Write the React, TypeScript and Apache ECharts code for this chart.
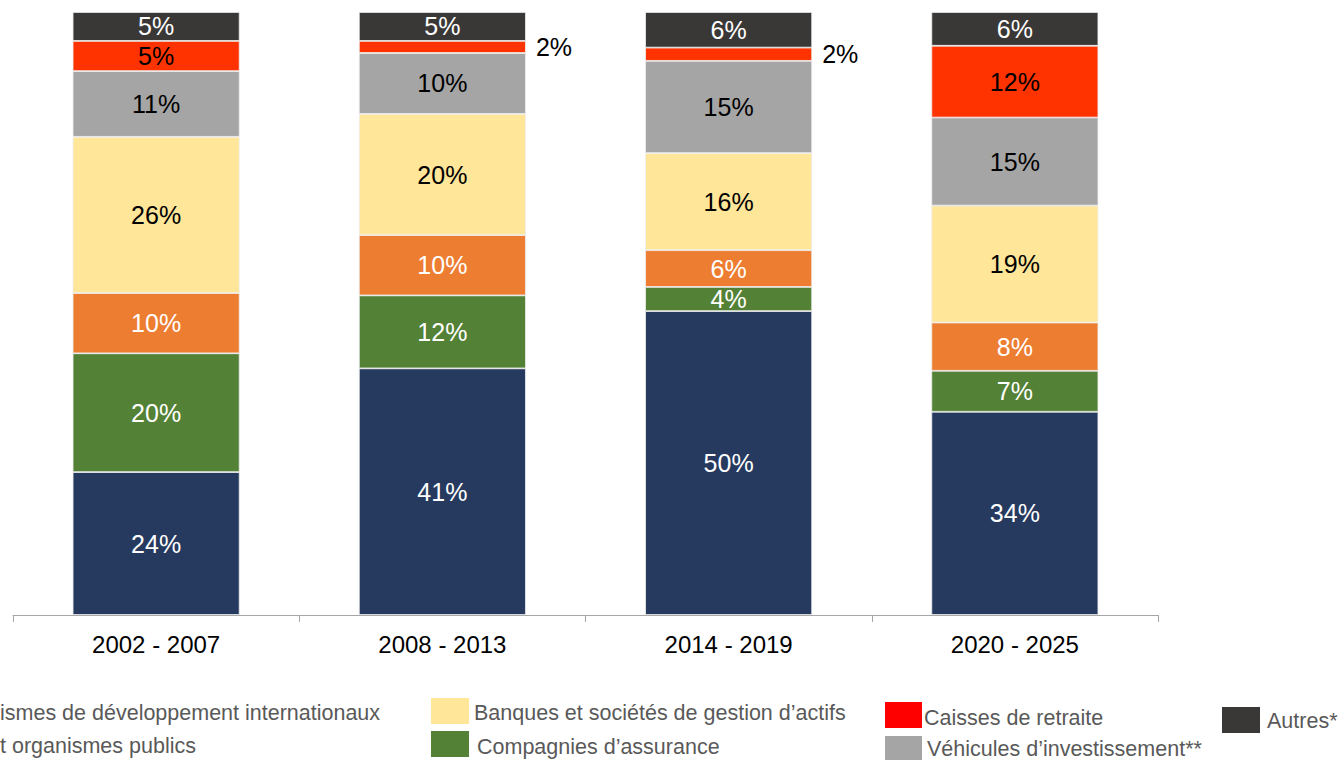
import React, { useEffect, useRef } from "react";
import * as echarts from "echarts";

const categories = ["2002 - 2007", "2008 - 2013", "2014 - 2019", "2020 - 2025"];
// values in % (bottom to top of each bar)
const publics = [23.7, 40.9, 50.4, 33.7];
const assurance = [19.7, 12.1, 4.0, 6.8];
const developpement = [10.0, 10.0, 6.1, 8.0];
const banques = [25.9, 20.1, 16.1, 19.4];
const vehicules = [10.9, 10.1, 15.3, 14.6];
const retraite = [5.0, 2.0, 2.2, 11.9];
const autres = [4.8, 4.8, 5.9, 5.6];

const FONT = "'Liberation Sans', Arial, sans-serif";

const seriesDefs = [
  { name: "Gouvernements et organismes publics", data: publics, color: "#253A5E", label: "#ffffff" },
  { name: "Compagnies d’assurance", data: assurance, color: "#538135", label: "#ffffff" },
  { name: "Organismes de développement internationaux", data: developpement, color: "#ED7D31", label: "#ffffff" },
  { name: "Banques et sociétés de gestion d’actifs", data: banques, color: "#FFE699", label: "#000000" },
  { name: "Véhicules d’investissement**", data: vehicules, color: "#A5A5A5", label: "#000000" },
  { name: "Caisses de retraite", data: retraite, color: "#FF3300", label: "#000000" },
  { name: "Autres*", data: autres, color: "#3A3836", label: "#ffffff" },
];

export default function App() {
  const ref = useRef<HTMLDivElement>(null);
  useEffect(() => {
    document.body.style.margin = "0";
    const chart = echarts.init(ref.current!, null, { renderer: "svg" });
    const series = seriesDefs.map((s) => ({
      type: "bar",
      name: s.name,
      stack: "total",
      barWidth: 167,
      itemStyle: { color: s.color, borderColor: "#eeeeee", borderWidth: 0.8 },
      label: {
        show: true,
        position: "inside",
        color: s.label,
        fontSize: 25,
        fontFamily: FONT,
        formatter: (p: any) => Math.round(p.value) + "%",
      },
      data: s.data.map((v) =>
        v < 3
          ? { value: v, label: { position: "right", distance: 10, color: "#000000" } }
          : v
      ),
    }));

    const legendText = (x: number, y: number, text: string, align = "left") => ({
      type: "text",
      x,
      y,
      style: {
        text,
        fill: "#595959",
        fontSize: 21.5,
        lineHeight: 21.5,
        fontFamily: FONT,
        align,
        verticalAlign: "middle",
      },
    });
    const legendBox = (x: number, y: number, w: number, h: number, color: string) => ({
      type: "rect",
      shape: { x, y, width: w, height: h },
      style: { fill: color },
    });

    chart.setOption({
      animation: false,
      grid: { left: 13, right: 182, top: 12, bottom: 145, containLabel: false },
      xAxis: {
        type: "category",
        data: categories,
        axisLine: { lineStyle: { color: "#A6A6A6", width: 1 } },
        axisTick: { show: true, length: 7, lineStyle: { color: "#A6A6A6" } },
        axisLabel: { color: "#000000", fontSize: 24, fontFamily: FONT, margin: 17 },
      },
      yAxis: { type: "value", min: 0, max: 100, show: false, splitLine: { show: false } },
      series,
      graphic: [
        // first legend column is cut at the page's left edge in the reference
        legendText(0, 713, "ismes de développement internationaux"),
        legendText(0, 746, "t organismes publics"),
        legendBox(431, 698, 38, 26, "#FFE699"),
        legendText(474, 713, "Banques et sociétés de gestion d’actifs"),
        legendBox(431, 731, 38, 26, "#538135"),
        legendText(477, 747, "Compagnies d’assurance"),
        legendBox(885, 702, 37, 26, "#FF0000"),
        legendText(924, 718, "Caisses de retraite"),
        legendBox(885, 736, 37, 24, "#A5A5A5"),
        legendText(927, 749, "Véhicules d’investissement**"),
        legendBox(1222, 707, 38, 26, "#3A3836"),
        legendText(1267, 721, "Autres*"),
      ],
    });
    return () => chart.dispose();
  }, []);
  return <div ref={ref} style={{ width: 1340, height: 760 }} />;
}
